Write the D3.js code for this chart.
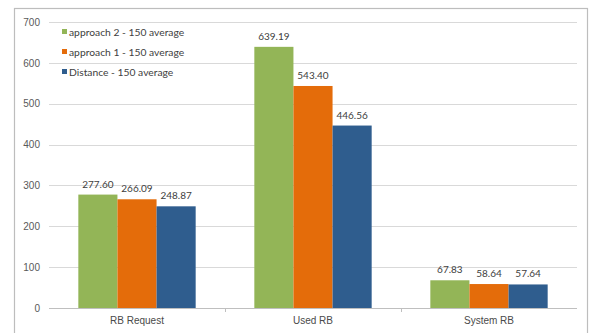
<!DOCTYPE html>
<html>
<head>
<meta charset="utf-8">
<script src="https://cdn.jsdelivr.net/npm/d3@7/dist/d3.min.js"></script>
<style>
  html, body { margin: 0; padding: 0; background: #fff; }
  svg { display: block; font-family: Lato, "Open Sans", sans-serif; }
</style>
</head>
<body>
<svg id="chart" width="590" height="333"></svg>
<script>
const categories = ["RB Request", "Used RB", "System RB"];
const seriesNames = ["approach 2 - 150 average", "approach 1 - 150 average", "Distance - 150 average"];
const approach2 = [277.60, 639.19, 67.83];
const approach1 = [266.09, 543.40, 58.64];
const distance = [248.87, 446.56, 57.64];
const yTicks = [0, 100, 200, 300, 400, 500, 600, 700];
const colors = ["#93B557", "#E46C0A", "#2F5D8E"];

const seriesValues = [approach2, approach1, distance];

const svg = d3.select("#chart");
const margin = { left: 49, right: 577, top: 22, bottom: 308 };

// chart frame
svg.append("rect")
  .attr("x", 14.5).attr("y", 8.5)
  .attr("width", 573).attr("height", 340)
  .attr("fill", "#fff").attr("stroke", "#bdbdbd").attr("stroke-width", 1.2);

const x0 = d3.scaleBand().domain(categories).range([margin.left, margin.right]);
// each group holds 3 bars plus a gap of 1.5 bar widths, split on both sides
const sideGap = x0.bandwidth() * (0.75 / 4.5);
const x1 = d3.scaleBand().domain(d3.range(seriesNames.length))
  .range([sideGap, x0.bandwidth() - sideGap]);

const y = d3.scaleLinear().domain([0, 700]).range([margin.bottom, margin.top]);

// gridlines
svg.append("g")
  .selectAll("line").data(yTicks.filter(d => d > 0)).join("line")
  .attr("x1", margin.left).attr("x2", margin.right)
  .attr("y1", d => Math.round(y(d)) + 0.5).attr("y2", d => Math.round(y(d)) + 0.5)
  .attr("stroke", "#d9d9d9").attr("stroke-width", 1);

// y axis labels
const yAxis = d3.axisLeft(y).tickValues(yTicks).tickSize(0).tickPadding(9);
const gy = svg.append("g").attr("transform", `translate(${margin.left},0)`).call(yAxis);
gy.select(".domain").remove();
gy.selectAll("text").attr("fill", "#595959").attr("font-size", 10);

// bars with value labels
const groups = svg.append("g").selectAll("g").data(categories).join("g")
  .attr("transform", d => `translate(${x0(d)},0)`);

groups.each(function(cat, ci) {
  const g = d3.select(this);
  seriesValues.forEach((vals, si) => {
    const v = vals[ci];
    g.append("rect")
      .attr("x", x1(si)).attr("width", x1.bandwidth())
      .attr("y", y(v)).attr("height", y(0) - y(v))
      .attr("fill", colors[si]);
    g.append("text")
      .attr("x", x1(si) + x1.bandwidth() / 2)
      .attr("y", y(v) - 7)
      .attr("text-anchor", "middle")
      .attr("font-size", 10)
      .attr("fill", "#404040")
      .text(v.toFixed(2));
  });
});

// x axis
const xAxis = d3.axisBottom(x0).tickSize(0).tickPadding(9);
const gx = svg.append("g").attr("transform", `translate(0,${margin.bottom})`).call(xAxis);
gx.select(".domain").attr("stroke", "#bfbfbf").attr("d", `M${margin.left},0.5H${margin.right}`);
gx.selectAll("text").attr("fill", "#4a4a4a").attr("font-size", 10);
// category boundary tick marks
svg.append("g").selectAll("line")
  .data(categories.slice(1)).join("line")
  .attr("x1", d => x0(d) + 0.5).attr("x2", d => x0(d) + 0.5)
  .attr("y1", margin.bottom).attr("y2", margin.bottom + 4)
  .attr("stroke", "#bfbfbf");

// legend
const legend = svg.append("g").selectAll("g").data(seriesNames).join("g")
  .attr("transform", (d, i) => `translate(62,${32 + i * 20})`);
legend.append("rect").attr("x", 0).attr("y", -3).attr("width", 5).attr("height", 5)
  .attr("fill", (d, i) => colors[i]);
legend.append("text").attr("x", 7).attr("y", 0).attr("dy", "0.35em")
  .attr("font-size", 10.3).attr("fill", "#404040").text(d => d);
</script>
</body>
</html>
